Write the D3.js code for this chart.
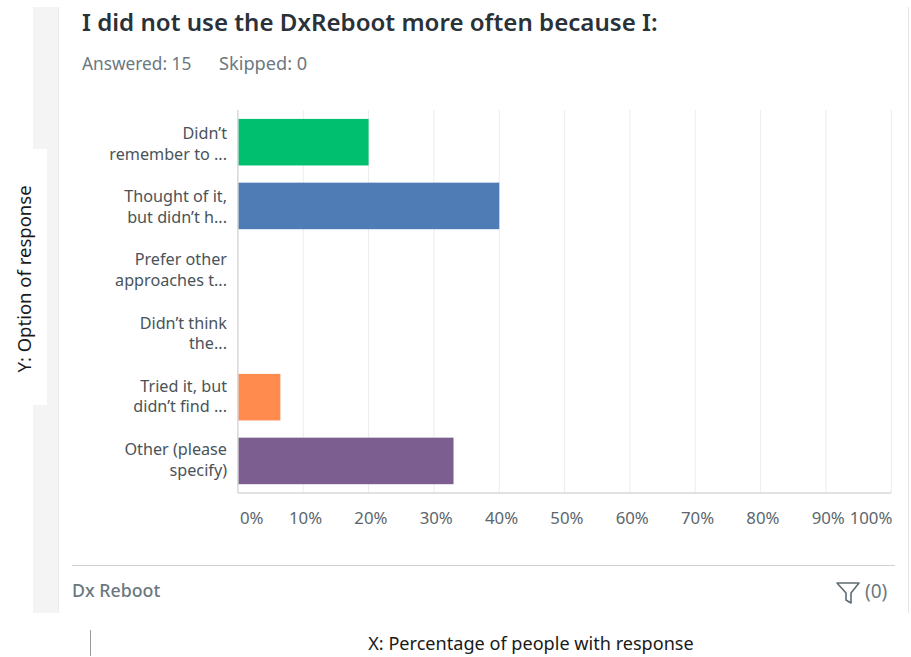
<!DOCTYPE html>
<html>
<head>
<meta charset="utf-8">
<script src="https://cdn.jsdelivr.net/npm/d3@7"></script>
<style>
  html, body { margin: 0; padding: 0; background: #fff; }
  svg { display: block; }
  text { font-family: "Noto Sans", "Open Sans", sans-serif; }
</style>
</head>
<body>
<svg id="chart" width="911" height="657"></svg>
<script>
const categories = [
  ["Didn’t", "remember to ..."],
  ["Thought of it,", "but didn’t h..."],
  ["Prefer other", "approaches t..."],
  ["Didn’t think", "the..."],
  ["Tried it, but", "didn’t find ..."],
  ["Other (please", "specify)"]
];
const percentages = [20, 40, 0, 0, 6.5, 33];
const barColors = ["#00bf6f", "#507cb6", "#6bc8cd", "#f9be00", "#ff8b4f", "#7d5e90"];
const tickValues = [0, 10, 20, 30, 40, 50, 60, 70, 80, 90, 100];

const svg = d3.select("#chart");

// Card frame: grey strip on the left, hairline on the right
svg.append("rect").attr("x", 33).attr("y", 7).attr("width", 25).attr("height", 606).attr("fill", "#f4f4f5");
svg.append("rect").attr("x", 58).attr("y", 7).attr("width", 1).attr("height", 606).attr("fill", "#ececec");
svg.append("rect").attr("x", 33).attr("y", 149).attr("width", 14).attr("height", 256).attr("fill", "#fff");
svg.append("rect").attr("x", 908).attr("y", 7).attr("width", 1).attr("height", 606).attr("fill", "#e4e4e4");

// Heading block
svg.append("text").attr("x", 82).attr("y", 31)
  .attr("font-size", 24.1).attr("font-weight", 600).attr("fill", "#2a3138")
  .text("I did not use the DxReboot more often because I:");
svg.append("text").attr("x", 82).attr("y", 70).attr("font-size", 17.3).attr("fill", "#6b787f").text("Answered: 15");
svg.append("text").attr("x", 219).attr("y", 70).attr("font-size", 18.2).attr("fill", "#6b787f").text("Skipped: 0");

// Scales
const x = d3.scaleLinear().domain([0, 100]).range([237.9, 891.3]);
const y = d3.scaleBand().domain(d3.range(categories.length)).range([110.3, 492.8]).paddingInner(0.27).paddingOuter(0.135);
const labelBaseline = d3.scaleLinear().domain([0, categories.length - 1]).range([139, 455]);

// Vertical grid lines
svg.append("g").selectAll("line").data(tickValues.slice(1)).join("line")
  .attr("x1", d => x(d)).attr("x2", d => x(d))
  .attr("y1", 110).attr("y2", 493)
  .attr("stroke", "#ececec").attr("stroke-width", 1);

// Bars
svg.append("g").selectAll("rect").data(percentages).join("rect")
  .attr("x", x(0))
  .attr("y", (d, i) => y(i))
  .attr("width", d => x(d) - x(0))
  .attr("height", y.bandwidth())
  .attr("fill", (d, i) => barColors[i]);

// Axis lines
svg.append("line").attr("x1", x(0)).attr("x2", x(0)).attr("y1", 110).attr("y2", 493).attr("stroke", "#d8d8d8").attr("stroke-width", 1.5);
svg.append("line").attr("x1", x(0)).attr("x2", x(100)).attr("y1", 493).attr("y2", 493).attr("stroke", "#d8d8d8").attr("stroke-width", 1.5);

// Wrapped category labels
const catLabels = svg.append("g").selectAll("text").data(categories).join("text")
  .attr("text-anchor", "end").attr("font-size", 16.2).attr("fill", "#4a5359");
catLabels.each(function (lines, i) {
  d3.select(this).selectAll("tspan").data(lines).join("tspan")
    .attr("x", 227)
    .attr("y", (l, j) => labelBaseline(i) + j * 20.6)
    .text(l => l);
});

// Percentage labels along the bottom; the end labels are pulled inward so they stay clear of their neighbours
const tickX = d => d === 100 ? 871 : d === 0 ? 251.8 : x(d) + 2.3;
svg.append("g").selectAll("text").data(tickValues).join("text")
  .attr("x", tickX).attr("y", 524)
  .attr("text-anchor", "middle").attr("font-size", 16.8).attr("fill", "#5c666c")
  .text(d => d + "%");

// Footer of the card
svg.append("line").attr("x1", 72).attr("x2", 895).attr("y1", 565.5).attr("y2", 565.5).attr("stroke", "#cfd2d4").attr("stroke-width", 1);
svg.append("text").attr("x", 72).attr("y", 597).attr("font-size", 17.8).attr("font-weight", 500).attr("fill", "#6b787f").text("Dx Reboot");
svg.append("path")
  .attr("d", "M837 583 H859 L851 593 V603 L846 600 V593 Z")
  .attr("fill", "none").attr("stroke", "#5f6b72").attr("stroke-width", 1.6).attr("stroke-linejoin", "round");
svg.append("text").attr("x", 865).attr("y", 598).attr("font-size", 19).attr("fill", "#6b787f").text("(0)");

// Axis captions
svg.append("text").attr("transform", "translate(31,279) rotate(-90)")
  .attr("text-anchor", "middle").attr("font-size", 18.5).attr("fill", "#1a1a1a").text("Y: Option of response");
svg.append("text").attr("x", 531).attr("y", 650)
  .attr("text-anchor", "middle").attr("font-size", 18.1).attr("fill", "#1a1a1a").text("X: Percentage of people with response");
svg.append("line").attr("x1", 90.5).attr("x2", 90.5).attr("y1", 630).attr("y2", 656).attr("stroke", "#9a9a9a").attr("stroke-width", 1);
</script>
</body>
</html>
